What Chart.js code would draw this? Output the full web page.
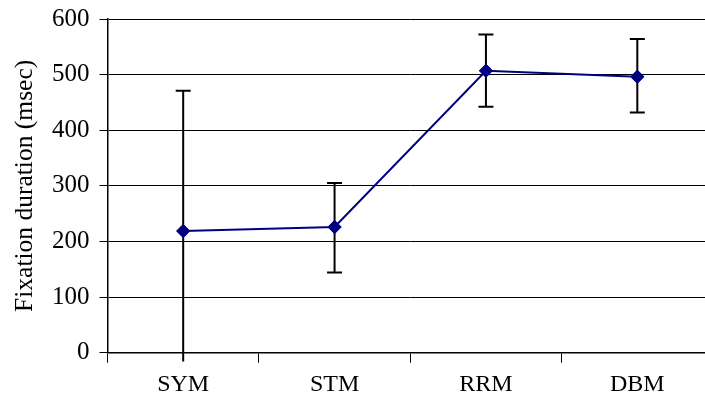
<!DOCTYPE html>
<html>
<head>
<meta charset="utf-8">
<script src="https://cdn.jsdelivr.net/npm/chart.js@4/dist/chart.umd.min.js"></script>
<style>
html,body{margin:0;padding:0;background:#fff;overflow:hidden;}
#wrap{width:705px;height:404px;overflow:hidden;position:relative;}
#box{width:720px;height:404px;position:absolute;left:0;top:0;}
</style>
</head>
<body>
<div id="wrap"><div id="box"><canvas id="c"></canvas></div></div>
<script>
const categories = ["SYM", "STM", "RRM", "DBM"];
const meanValues = [219, 226, 507, 496];
const errHigh = [471, 305, 572, 564];
const errLow = [-16, 144, 442, 432];
const yTicks = [0, 100, 200, 300, 400, 500, 600];

const FONT = "'Liberation Serif', 'Times New Roman', Times, serif";

const errorBars = {
  id: 'errorBars',
  afterDatasetsDraw(chart) {
    const ctx = chart.ctx;
    const x = chart.scales.x, y = chart.scales.y;
    ctx.save();
    ctx.strokeStyle = '#000';
    ctx.lineWidth = 2;
    categories.forEach((c, i) => {
      const px = x.getPixelForValue(i);
      const top = y.getPixelForValue(errHigh[i]);
      const bot = y.getPixelForValue(errLow[i]);
      ctx.beginPath();
      ctx.moveTo(px, top); ctx.lineTo(px, bot);
      if (errHigh[i] <= y.max) { ctx.moveTo(px - 7.5, top); ctx.lineTo(px + 7.5, top); }
      if (errLow[i] >= y.min) { ctx.moveTo(px - 7.5, bot); ctx.lineTo(px + 7.5, bot); }
      ctx.stroke();
    });
    ctx.restore();
    const meta = chart.getDatasetMeta(0);
    meta.data.forEach(p => p.draw(ctx, chart.chartArea));
  }
};

new Chart(document.getElementById('c'), {
  type: 'line',
  data: {
    labels: categories,
    datasets: [{
      data: meanValues,
      borderColor: '#000080',
      backgroundColor: '#000080',
      borderWidth: 2,
      pointStyle: 'rectRot',
      pointRadius: 7,
      pointBorderWidth: 0,
      pointBackgroundColor: '#000080',
      tension: 0
    }]
  },
  options: {
    responsive: true,
    maintainAspectRatio: false,
    animation: false,
    devicePixelRatio: 1,
    layout: { padding: { top: 19, right: 4, left: 0, bottom: 0 } },
    plugins: { legend: { display: false }, tooltip: { enabled: false } },
    scales: {
      x: {
        offset: true,
        grid: { offset: true, drawOnChartArea: false, drawTicks: true, tickLength: 10, color: '#000', lineWidth: 1 },
        border: { color: '#000', width: 1.5 },
        ticks: { color: '#000', font: { family: FONT, size: 24 }, padding: 8, maxRotation: 0 },
        afterFit(s) { s.height = 51.3; s.paddingLeft = 0; s.paddingRight = 0; }
      },
      y: {
        min: 0, max: 600,
        afterBuildTicks(s) { s.ticks = yTicks.map(v => ({ value: v })); },
        grid: { color: '#000', lineWidth: 1, tickLength: 8, drawTicks: true },
        border: { color: '#000', width: 1.5 },
        ticks: { color: '#000', font: { family: FONT, size: 25 }, padding: 10 },
        title: { display: true, text: 'Fixation duration (msec)', color: '#000', font: { family: FONT, size: 25.5 }, padding: { top: 10, bottom: 0 } },
        afterFit(s) { s.width = 107.5; s.paddingTop = 0; s.paddingBottom = 0; }
      }
    }
  },
  plugins: [errorBars]
});
</script>
</body>
</html>
